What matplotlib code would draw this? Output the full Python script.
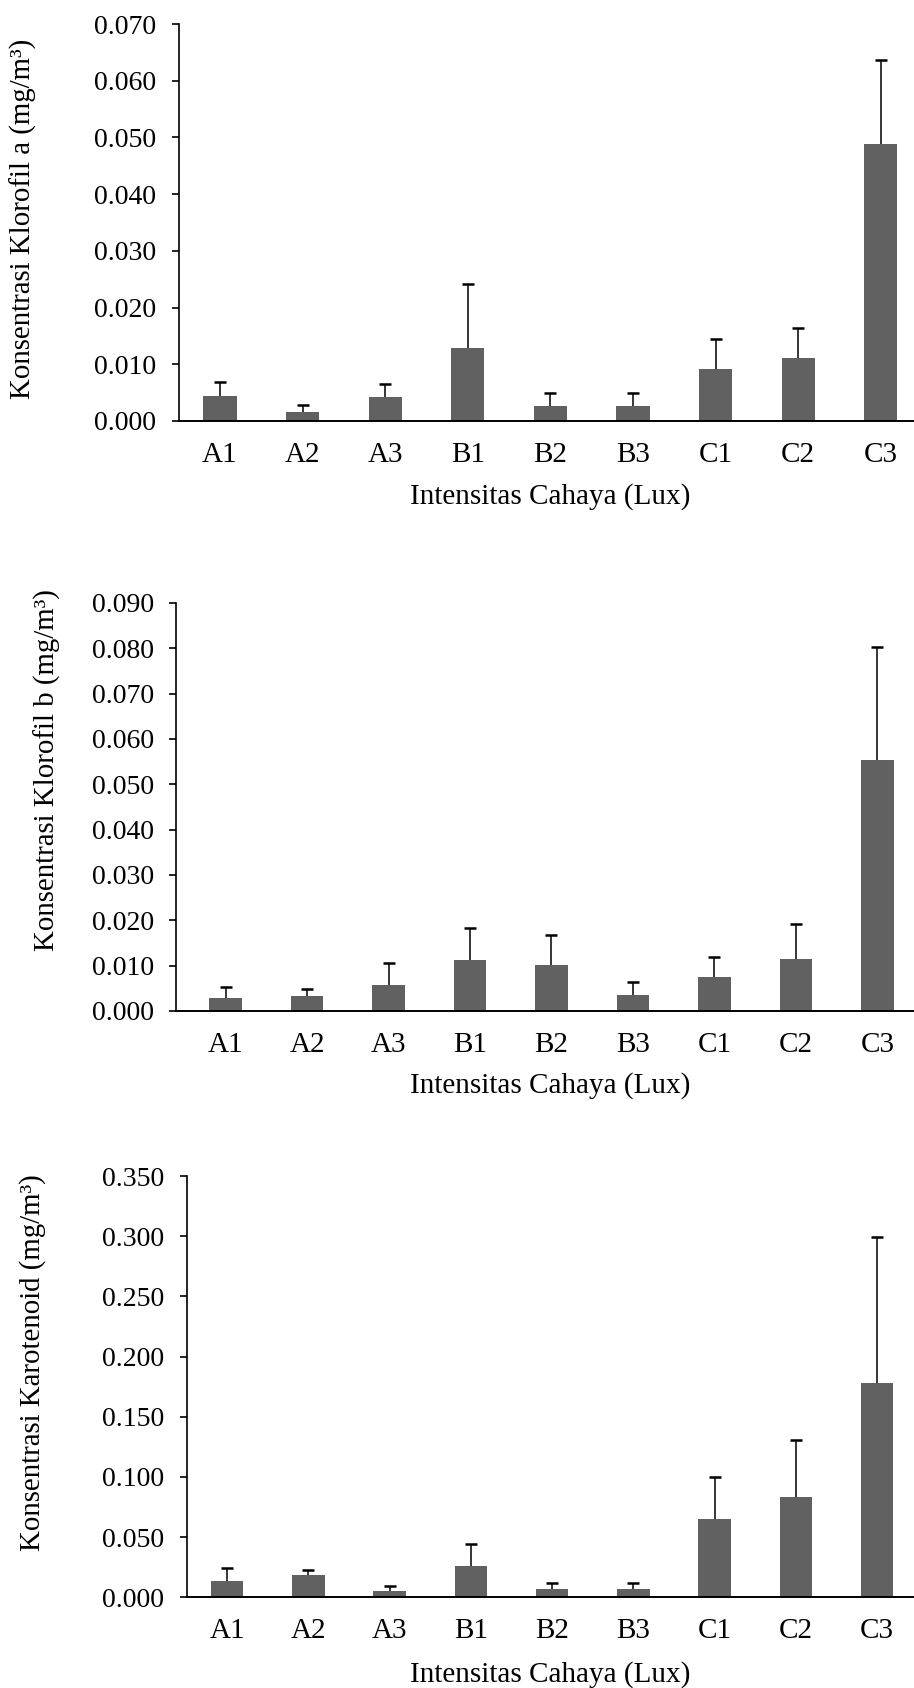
import numpy as np
import matplotlib
matplotlib.use("Agg")
import matplotlib.pyplot as plt
from matplotlib.ticker import FormatStrFormatter, MultipleLocator

plt.rcParams["font.family"] = ["Liberation Serif", "DejaVu Serif"]
plt.rcParams["font.size"] = 20

# DATA
perlakuan = ["A1", "A2", "A3", "B1", "B2", "B3", "C1", "C2", "C3"]

klorofil_a = [0.0044, 0.0016, 0.0042, 0.0128, 0.0026, 0.0026, 0.0092, 0.0111, 0.0488]
sd_klorofil_a = [0.0024, 0.0013, 0.0024, 0.0114, 0.0024, 0.0024, 0.0053, 0.0053, 0.0148]

klorofil_b = [0.0028, 0.0032, 0.0057, 0.0113, 0.0102, 0.0036, 0.0075, 0.0114, 0.0553]
sd_klorofil_b = [0.0025, 0.0017, 0.0049, 0.0069, 0.0066, 0.0029, 0.0045, 0.0078, 0.0249]

karotenoid = [0.0134, 0.0182, 0.0051, 0.0262, 0.0066, 0.0071, 0.0649, 0.0834, 0.1777]
sd_karotenoid = [0.0111, 0.0043, 0.0040, 0.0182, 0.0054, 0.0048, 0.0350, 0.0473, 0.1216]

W, H = 914, 1688
fig = plt.figure(figsize=(W / 100, H / 100), dpi=100)


def panel(left, top, bottom, spacing, x0, nilai, sd, ymax, step, ylabel, lab_xy, xlab_y):
    width = (8.5 - x0) * spacing
    ax = fig.add_axes([left / W, 1 - bottom / H, width / W, (bottom - top) / H])
    x = np.arange(len(perlakuan))
    ax.bar(x, nilai, width=0.4, color="#616161", zorder=2)
    # error bar hanya ke atas
    _, caps, _ = ax.errorbar(x, nilai, yerr=[np.zeros(len(sd)), sd], fmt="none",
                             ecolor="black", elinewidth=1.1, capsize=4.3,
                             capthick=1.8, zorder=3)
    caps[0].set_visible(False)
    ax.set_xlim(x0, 8.5)
    ax.set_ylim(0, ymax)
    ax.yaxis.set_major_locator(MultipleLocator(step))
    ax.yaxis.set_major_formatter(FormatStrFormatter("%.3f"))
    ax.set_xticks(x)
    ax.set_xticklabels(perlakuan, fontsize=21)
    ax.tick_params(axis="x", length=0, pad=15)
    ax.tick_params(axis="y", length=5, width=1.2, pad=11, direction="out")
    for s in ["top", "right"]:
        ax.spines[s].set_visible(False)
    ax.spines["left"].set_linewidth(1.2)
    ax.spines["bottom"].set_linewidth(1.4)
    fig.text(lab_xy[0] / W, 1 - lab_xy[1] / H, ylabel, rotation=90,
             ha="center", va="center", fontsize=20.8)
    fig.text(550 / W, 1 - xlab_y / H, "Intensitas Cahaya (Lux)",
             ha="center", va="center", fontsize=21)
    return ax


panel(178.7, 24, 421, 82.6, -0.5, klorofil_a, sd_klorofil_a, 0.070, 0.010,
      "Konsentrasi Klorofil a (mg/m³)", (23, 219), 497)
panel(176, 603, 1011, 81.45, -0.61, klorofil_b, sd_klorofil_b, 0.090, 0.010,
      "Konsentrasi Klorofil b (mg/m³)", (47, 770), 1086)
panel(186.5, 1176, 1597.4, 81.25, -0.5, karotenoid, sd_karotenoid, 0.350, 0.050,
      "Konsentrasi Karotenoid (mg/m³)", (33, 1363), 1675)

plt.savefig("out.png", dpi=100)
